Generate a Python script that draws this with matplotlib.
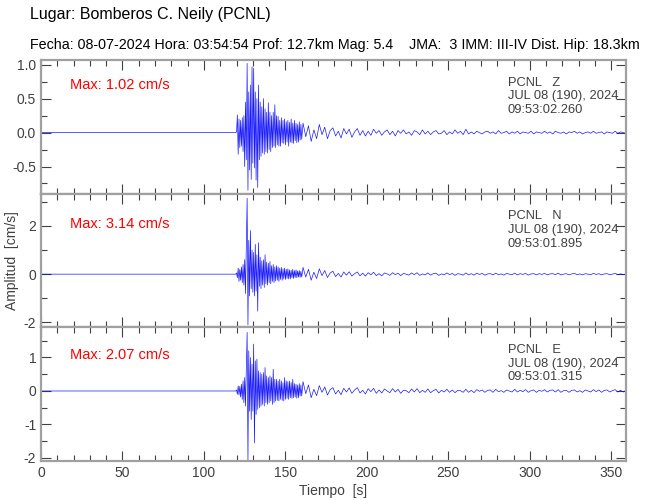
import numpy as np
import matplotlib
matplotlib.use("Agg")
import matplotlib.pyplot as plt
from matplotlib.ticker import MultipleLocator, FormatStrFormatter

# -------------------------------------------------------------------------
# Data (cm/s)
# -------------------------------------------------------------------------
components = ["Z", "N", "E"]
max_values = [1.02, 3.14, 2.07]
start_times = ["09:53:02.260", "09:53:01.895", "09:53:01.315"]
station = "PCNL"
date_label = "JUL 08 (190), 2024"

# strong motion part, one value every 0.5 s from 119.5 s to 160 s
strong_z = [0.0, 0.01, 0.26, -0.32, 0.20, -0.22, 0.18, -0.20, 0.22, -0.28,
            0.25, -0.50, 0.45, -0.40, 1.02, -0.85, 0.60, -0.55, 0.70, -0.69,
            0.97, -0.45, 0.95, -0.52, 0.60, -0.70, 0.50, -0.81, 0.70, -0.40,
            0.45, -0.35, 0.38, -0.30, 0.50, -0.32, 0.35, -0.28, 0.30, -0.30,
            0.44, -0.25, 0.30, -0.28, 0.25, -0.22, 0.30, -0.20, 0.41, -0.22,
            0.25, -0.18, 0.24, -0.20, 0.18, -0.20, 0.22, -0.15, 0.18, -0.16,
            0.20, -0.18, 0.16, -0.14, 0.18, -0.20, 0.15, -0.14, 0.20, -0.15,
            0.14, -0.16, 0.18, -0.12, 0.14, -0.15, 0.12, -0.14, 0.16, -0.11,
            0.12, -0.10]
strong_n = [0.0, 0.05, -0.15, 0.25, -0.30, 0.20, -0.25, 0.30, -0.35, 0.40,
            -0.45, 0.60, -0.80, 1.20, 3.14, -2.10, 1.40, -0.90, 1.80, -0.60,
            1.00, -0.75, 0.90, -0.90, 1.23, -0.70, 0.80, -1.53, 1.30, -0.50,
            0.70, -0.60, 0.55, -0.45, 0.60, -0.55, 0.80, -0.40, 0.50, -0.45,
            0.45, -0.35, 0.52, -0.40, 0.35, -0.30, 0.40, -0.35, 0.30, -0.28,
            0.35, -0.25, 0.30, -0.30, 0.25, -0.22, 0.28, -0.25, 0.22, -0.20,
            0.25, -0.22, 0.20, -0.18, 0.22, -0.20, 0.18, -0.20, 0.16, -0.15,
            0.20, -0.18, 0.15, -0.14, 0.18, -0.15, 0.14, -0.12, 0.15, -0.13,
            0.12, -0.12]
strong_e = [0.0, 0.03, -0.10, 0.15, -0.12, 0.14, -0.18, 0.20, -0.25, 0.30,
            -0.35, 0.40, -0.45, 0.70, 1.75, -2.07, 1.20, -0.60, 1.00, -0.85,
            0.80, -0.60, 1.40, -1.55, 0.90, -0.70, 0.95, -0.55, 0.60, -0.50,
            0.55, -0.45, 0.50, -0.40, 0.55, -0.45, 0.70, -0.35, 0.45, -0.40,
            0.40, -0.35, 0.45, -0.30, 0.40, -0.40, 0.65, -0.35, 0.35, -0.30,
            0.35, -0.28, 0.30, -0.30, 0.35, -0.25, 0.30, -0.28, 0.25, -0.30,
            0.40, -0.25, 0.30, -0.22, 0.28, -0.25, 0.30, -0.20, 0.25, -0.22,
            0.35, -0.20, 0.22, -0.18, 0.20, -0.22, 0.18, -0.20, 0.22, -0.15,
            0.18, -0.15]

# coda, 120 values evenly spread from 160.8 s to 359 s
coda_z = [0.14, -0.06, 0.10, -0.13, 0.04, -0.09, 0.12, -0.03, 0.08,
          -0.09, 0.03, 0.07, -0.05, 0.02, -0.08, 0.06, -0.02, 0.05, -0.07,
          0.01, 0.06, -0.04, 0.03, -0.05,
          0.02, -0.04, 0.05, -0.01, 0.03, -0.04, 0.01, 0.04, -0.03, 0.02,
          -0.05, 0.03, -0.01, 0.04, -0.02, 0.01, -0.04, 0.03, 0.01, -0.03,
          0.04, -0.02, 0.02, -0.03, 0.01, 0.03, -0.02, -0.01, 0.03, -0.03,
          0.01, -0.02, 0.04, -0.01, 0.02, -0.03,
          0.05, -0.02, 0.01, -0.02, 0.02, 0.00, -0.02, 0.01, 0.02, -0.01,
          0.01, -0.02, 0.03, -0.01, 0.00, 0.02, -0.02, 0.01, -0.01, 0.02,
          -0.02, 0.01, 0.00, -0.01, 0.02, -0.02, 0.01, 0.00, -0.01, 0.02,
          -0.01, 0.01, -0.02, 0.02, 0.00, -0.01, 0.01, -0.02, 0.01, 0.00,
          0.02, -0.01, 0.01, -0.02, 0.00, 0.01, -0.01, 0.02, -0.01, 0.00,
          0.01, -0.02, 0.01, 0.00, -0.01, 0.02, -0.01, 0.01, 0.00, -0.01]
coda_n = [0.28, -0.12, 0.20, -0.25, 0.08, -0.18, 0.22, -0.06, 0.15,
          -0.14, 0.05, 0.12, -0.10, 0.03, -0.12, 0.09, -0.04, 0.10, -0.08,
          0.02, 0.09, -0.07, 0.04, -0.08,
          0.06, -0.03, 0.08, -0.06, 0.02, -0.07, 0.05, 0.01, -0.05, 0.06,
          -0.02, 0.04, -0.06, 0.03, 0.00, -0.04, 0.05, -0.02, 0.06, -0.05,
          0.01, -0.03, 0.05, -0.04, 0.02, 0.04, -0.05, 0.01, -0.03, 0.05,
          -0.02, 0.03, -0.05, 0.02, 0.00, -0.04,
          0.05, -0.03, 0.02, -0.04, 0.04, -0.01, 0.03, -0.04, 0.01, 0.02,
          -0.03, 0.04, -0.02, 0.01, -0.04, 0.03, 0.00, -0.02, 0.04, -0.03,
          0.02, -0.01, 0.03, -0.04, 0.01, 0.02, -0.03, 0.02, -0.01, 0.03,
          -0.03, 0.01, 0.02, -0.02, 0.04, -0.03, 0.00, 0.02, -0.03, 0.01,
          0.03, -0.02, 0.01, -0.03, 0.02, 0.00, -0.02, 0.03, -0.01, 0.02,
          -0.03, 0.01, 0.02, -0.02, 0.00, 0.03, -0.02, 0.01, -0.02, 0.01]
coda_e = [0.28, -0.08, 0.18, -0.20, 0.05, -0.14, 0.16, -0.04, 0.12,
          -0.12, 0.04, 0.10, -0.09, 0.02, -0.11, 0.08, -0.03, 0.09, -0.07,
          0.03, 0.10, -0.06, 0.02, -0.09,
          0.07, -0.02, 0.08, -0.07, 0.03, -0.06, 0.06, 0.00, -0.05, 0.07,
          -0.03, 0.05, -0.07, 0.02, 0.01, -0.05, 0.06, -0.03, 0.07, -0.05,
          0.02, -0.04, 0.06, -0.05, 0.01, 0.05, -0.06, 0.02, -0.03, 0.05,
          -0.04, 0.03, -0.05, 0.02, 0.01, -0.04,
          0.05, -0.04, 0.02, -0.05, 0.04, -0.01, 0.03, -0.04, 0.02, 0.03,
          -0.04, 0.05, -0.02, 0.01, -0.04, 0.03, 0.00, -0.03, 0.05, -0.03,
          0.02, -0.02, 0.04, -0.04, 0.01, 0.03, -0.04, 0.02, -0.01, 0.04,
          -0.03, 0.02, 0.03, -0.03, 0.04, -0.04, 0.01, 0.02, -0.04, 0.02,
          0.03, -0.03, 0.01, -0.04, 0.03, 0.00, -0.03, 0.04, -0.02, 0.03,
          -0.04, 0.02, 0.03, -0.03, 0.01, 0.04, -0.03, 0.02, -0.03, 0.02]

strong = [strong_z, strong_n, strong_e]
coda = [coda_z, coda_n, coda_e]

y_limits = [(-0.9, 1.07), (-2.2, 3.33), (-2.09, 1.9)]
y_major = [0.5, 2.0, 1.0]
y_minor = [0.25, 1.0, 0.5]
y_format = ["%.1f", "%d", "%d"]
max_text_y = [0.81, 0.77, 0.79]

title_1 = "Lugar: Bomberos C. Neily (PCNL)"
title_2 = ("Fecha: 08-07-2024 Hora: 03:54:54 Prof: 12.7km Mag: 5.4    "
           "JMA:  3 IMM: III-IV Dist. Hip: 18.3km")

# -------------------------------------------------------------------------
# Plot
# -------------------------------------------------------------------------
sans = "Liberation Sans"
frame_grey = "#a0a0a0"
text_grey = "#404040"

fig = plt.figure(figsize=(6.5, 5.0), dpi=100, facecolor="white")
gs = fig.add_gridspec(
  nrows=3, ncols=1,
  left=41 / 650, right=626 / 650,
  bottom=1 - 461 / 500, top=1 - 60 / 500,
  hspace=0.0,
)

fig.text(30 / 650, 1 - 15 / 500, title_1, fontsize=11.5,
         family=sans, va="center", ha="left")
fig.text(30 / 650, 1 - 45 / 500, title_2, fontsize=10.3,
         family=sans, va="center", ha="left")

axes = []
for i, comp in enumerate(components):
  ax = fig.add_subplot(gs[i, 0])
  axes.append(ax)

  t = np.concatenate([[0.0],
                      np.linspace(119.5, 160.0, len(strong[i])),
                      np.linspace(160.8, 359.0, len(coda[i]))])
  v = np.concatenate([[0.0], strong[i], coda[i]])
  ax.plot(t, v, color="#0000ff", linewidth=0.5, alpha=0.9)

  ax.set_xlim(0, 359)
  ax.set_ylim(*y_limits[i])
  ax.xaxis.set_major_locator(MultipleLocator(50))
  ax.xaxis.set_minor_locator(MultipleLocator(10))
  ax.yaxis.set_major_locator(MultipleLocator(y_major[i]))
  ax.yaxis.set_minor_locator(MultipleLocator(y_minor[i]))
  ax.yaxis.set_major_formatter(FormatStrFormatter(y_format[i]))
  ax.tick_params(which="both", direction="in", top=True, right=True,
                 color=text_grey, labelcolor=text_grey, labelsize=10,
                 width=0.8)
  ax.tick_params(which="major", length=7)
  ax.tick_params(which="minor", length=4)
  for lab in ax.get_yticklabels() + ax.get_xticklabels():
    lab.set_family(sans)
  for s in ax.spines.values():
    s.set_color(frame_grey)
    s.set_linewidth(1.6)
  if i < 2:
    ax.tick_params(labelbottom=False)

  ax.text(0.05, max_text_y[i], "Max: %.2f cm/s" % max_values[i],
          transform=ax.transAxes, color="#ff0000", fontsize=10.5,
          family=sans, va="center", ha="left")
  info = "%s   %s\n%s\n%s" % (station, comp, date_label, start_times[i])
  ax.text(0.798, 0.875, info, transform=ax.transAxes, color=text_grey,
          fontsize=9.3, family=sans, va="top", ha="left", linespacing=1.18)

axes[1].set_ylabel("Amplitud  [cm/s]", family=sans, fontsize=10,
                   color=text_grey, labelpad=3)
axes[2].set_xlabel("Tiempo  [s]", family=sans, fontsize=10,
                   color=text_grey, labelpad=3)

fig.savefig("out.png", dpi=100, facecolor="white")
